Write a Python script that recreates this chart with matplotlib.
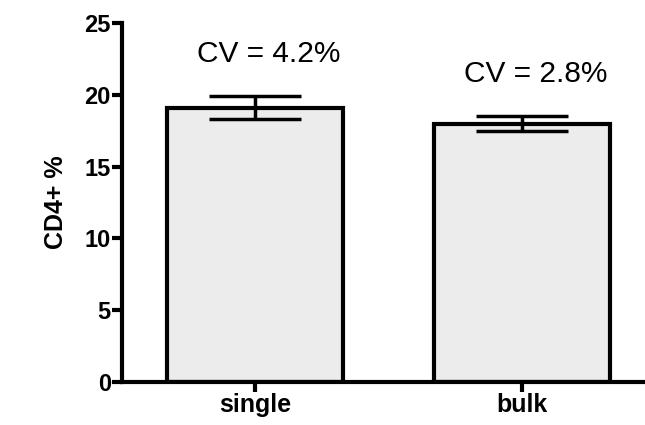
import matplotlib
matplotlib.use("Agg")
import matplotlib.pyplot as plt

plt.rcParams['font.family'] = ['Liberation Sans', 'DejaVu Sans']

# data
groups = ["single", "bulk"]
means = [19.1, 18.0]
errors = [0.8, 0.5]
cv_labels = ["CV = 4.2%", "CV = 2.8%"]
cv_y = [22.85, 21.45]

fig = plt.figure(figsize=(6.45, 4.25), dpi=100)
ax = fig.add_axes([0.189, 0.101, 0.811, 0.845])

x = list(range(len(groups)))
ax.bar(x, means, width=0.66, color="#ececec", edgecolor="black", linewidth=3, zorder=2)
ax.errorbar(x, means, yerr=errors, fmt="none", ecolor="black",
            elinewidth=2.5, capsize=33, capthick=2.5, zorder=3)

for xi, lab, yy in zip(x, cv_labels, cv_y):
    ax.text(xi + 0.05, yy, lab, ha="center", va="center", fontsize=21.5)

ax.set_xlim(-0.5, 1.46)
ax.set_ylim(0, 25)
ax.set_yticks([0, 5, 10, 15, 20, 25])
ax.set_xticks(x)
ax.set_xticklabels(groups, fontsize=18, fontweight="bold")
for t in ax.get_yticklabels():
    t.set_fontsize(17)
    t.set_fontweight("bold")
ax.set_ylabel("CD4+ %", fontsize=18, fontweight="bold", labelpad=12)

for s in ["top", "right"]:
    ax.spines[s].set_visible(False)
for s in ["left", "bottom"]:
    ax.spines[s].set_linewidth(3)
ax.tick_params(axis="both", width=3, length=7, pad=1)

fig.savefig("out.png", dpi=100)
